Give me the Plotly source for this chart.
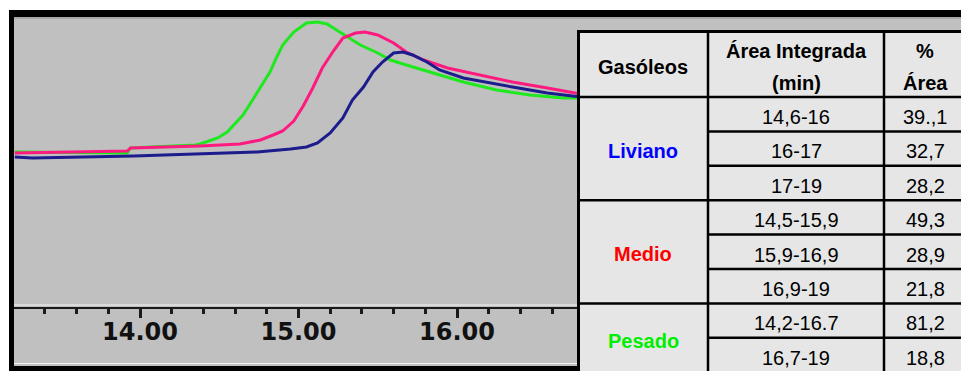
import plotly.graph_objects as go

W, H = 961, 371

# ---- chromatogram data (time in min, detector signal in arbitrary units) ----
time_pesado = [13.21, 13.54, 13.92, 13.94, 14.35, 14.38, 14.49, 14.55, 14.59, 14.65,
               14.71, 14.76, 14.82, 14.86, 14.90, 14.97, 15.03, 15.05, 15.12, 15.18,
               15.24, 15.31, 15.39, 15.50, 15.58, 15.68, 15.83, 16.04, 16.25, 16.46,
               16.67, 16.78]
signal_pesado = [155, 154.5, 154, 159, 162, 163, 169, 175, 182, 192,
                 207, 220, 235, 249, 262, 275, 282, 284, 285, 283,
                 277, 270, 262, 254, 247, 242, 235, 225, 217, 212,
                 209, 209]

time_medio = [13.21, 13.92, 13.94, 14.38, 14.63, 14.76, 14.84, 14.90, 14.97, 15.03,
              15.09, 15.15, 15.22, 15.28, 15.36, 15.42, 15.50, 15.60, 15.68, 15.79,
              15.94, 16.15, 16.35, 16.57, 16.78]
signal_medio = [154, 156, 159, 161, 163, 167, 172, 176, 186, 201,
                219, 239, 256, 269, 274, 275, 272, 264, 255, 247,
                239, 232, 225, 219, 213]

time_liviano = [13.21, 13.32, 13.96, 14.38, 14.74, 14.95, 15.05, 15.12, 15.20, 15.28,
                15.34, 15.41, 15.47, 15.53, 15.60, 15.66, 15.72, 15.81, 15.89, 16.04,
                16.19, 16.35, 16.57, 16.78]
signal_liviano = [150, 149, 151, 153, 155, 158, 160, 164, 174, 189,
                  207, 220, 235, 245, 254, 255, 252, 245, 237, 229,
                  225, 220, 214, 210]

tick_values = [14, 15, 16]
tick_labels = ["14.00", "15.00", "16.00"]

# ---- table data ----
table_headers = ["Gasóleos", ["Área Integrada", "(min)"], ["%", "Área"]]
groups = ["Liviano", "Medio", "Pesado"]
group_colors = ["#0000ff", "#ff0000", "#00ee00"]
group_sizes = [3, 3, 2]
ranges = ["14,6-16", "16-17", "17-19",
          "14,5-15,9", "15,9-16,9", "16,9-19",
          "14,2-16.7", "16,7-19"]
areas = ["39.,1", "32,7", "28,2",
         "49,3", "28,9", "21,8",
         "81,2", "18,8"]


def px(x):
    return x / W


def py(y):
    return 1 - y / H


fig = go.Figure()
fig.add_trace(go.Scatter(x=time_pesado, y=signal_pesado, mode="lines",
                         line=dict(color="#1ee81e", width=3), name="Pesado"))
fig.add_trace(go.Scatter(x=time_medio, y=signal_medio, mode="lines",
                         line=dict(color="#ff1a80", width=3), name="Medio"))
fig.add_trace(go.Scatter(x=time_liviano, y=signal_liviano, mode="lines",
                         line=dict(color="#1c1c8c", width=3), name="Liviano"))

# axis mapping: 14 min at x=140 px, 158.5 px per minute
x_left, x_right = 14, W
t0 = 14 - (140 - x_left) / 158.5
t1 = 14 + (x_right - 140) / 158.5

shapes = []
# background panel & frame (below)
shapes.append(dict(type="rect", xref="paper", yref="paper", x0=px(9), x1=px(W), y0=py(371), y1=py(10),
                   fillcolor="#c0c0c0", line=dict(width=0), layer="below"))
shapes.append(dict(type="rect", xref="paper", yref="paper", x0=px(9), x1=px(W), y0=py(19), y1=py(17),
                   fillcolor="#a6a6a6", line=dict(width=0), layer="below"))
shapes.append(dict(type="rect", xref="paper", yref="paper", x0=px(9), x1=px(W), y0=py(17), y1=py(10),
                   fillcolor="#000000", line=dict(width=0), layer="below"))
shapes.append(dict(type="rect", xref="paper", yref="paper", x0=px(9), x1=px(14), y0=py(371), y1=py(10),
                   fillcolor="#000000", line=dict(width=0), layer="below"))
shapes.append(dict(type="line", xref="paper", yref="paper", x0=px(14), x1=px(577), y0=py(305), y1=py(305),
                   line=dict(color="#f4f4f4", width=1), layer="below"))
shapes.append(dict(type="line", xref="paper", yref="paper", x0=px(14), x1=px(577), y0=py(363.5), y1=py(363.5),
                   line=dict(color="#f4f4f4", width=1), layer="below"))
shapes.append(dict(type="rect", xref="paper", yref="paper", x0=px(9), x1=px(577), y0=py(371), y1=py(366),
                   fillcolor="#000000", line=dict(width=0), layer="below"))

# table (above)
T_left, T_top, T_right, T_bottom = 578.5, 31.5, 963, 375
col_x = [T_left, 708, 884, T_right]
header_bottom = 97
row_h = 34.4
shapes.append(dict(type="rect", xref="paper", yref="paper", x0=px(T_left), x1=px(T_right),
                   y0=py(T_bottom), y1=py(T_top), fillcolor="#e6e6e6",
                   line=dict(color="#000000", width=3), layer="above"))
for cx in col_x[1:3]:
    shapes.append(dict(type="line", xref="paper", yref="paper", x0=px(cx), x1=px(cx),
                       y0=py(T_bottom), y1=py(T_top), line=dict(color="#000000", width=2.5), layer="above"))
row_lines = [header_bottom + i * row_h for i in range(sum(group_sizes))]
group_starts = [0]
for s in group_sizes[:-1]:
    group_starts.append(group_starts[-1] + s)
for i, yline in enumerate(row_lines):
    full = i in group_starts
    shapes.append(dict(type="line", xref="paper", yref="paper",
                       x0=px(T_left if full else col_x[1]), x1=px(T_right),
                       y0=py(yline), y1=py(yline), line=dict(color="#000000", width=2.5), layer="above"))

annotations = []
FONT = "Liberation Sans, Arial, sans-serif"


def ann(text, x, y, color="#000000", bold=False, size=20):
    annotations.append(dict(text=f"<b>{text}</b>" if bold else text, x=px(x), y=py(y),
                            xref="paper", yref="paper", xanchor="center", yanchor="middle",
                            showarrow=False, font=dict(family=FONT, size=size, color=color)))


col_c = [(col_x[0] + col_x[1]) / 2, (col_x[1] + col_x[2]) / 2, 925]
ann(table_headers[0], col_c[0], 67, bold=True)
ann(table_headers[1][0], col_c[1], 51, bold=True)
ann(table_headers[1][1], col_c[1], 83, bold=True)
ann(table_headers[2][0], col_c[2], 51, bold=True)
ann(table_headers[2][1], col_c[2], 83, bold=True)

for i, (r, a) in enumerate(zip(ranges, areas)):
    yc = header_bottom + i * row_h + 20
    ann(r, col_c[1], yc)
    ann(a, col_c[2], yc)

group_y = [151, 254, 341]
for g, c, gy in zip(groups, group_colors, group_y):
    ann(g, col_c[0], gy, color=c, bold=True)

fig.update_layout(
    width=W, height=H, margin=dict(l=0, r=0, t=0, b=0),
    paper_bgcolor="#ffffff", plot_bgcolor="rgba(0,0,0,0)",
    showlegend=False, shapes=shapes, annotations=annotations,
    xaxis=dict(domain=[px(x_left), 1], range=[t0, t1], showgrid=False, zeroline=False,
               showline=True, linecolor="#1a1a1a", linewidth=2,
               ticks="outside", ticklen=9, tickwidth=3, tickcolor="#1a1a1a",
               tickmode="array", tickvals=tick_values, ticktext=tick_labels,
               ticklabelstandoff=-7,
               tickfont=dict(family="DejaVu Sans", size=24, color="#111111", weight="bold"),
               minor=dict(dtick=0.2, tick0=0, ticks="outside", ticklen=5, tickwidth=3,
                          tickcolor="#1a1a1a", showgrid=False)),
    yaxis=dict(domain=[py(307), py(17)], range=[0, 290], visible=False,
               showgrid=False, zeroline=False),
)

fig.write_html("out.html")
